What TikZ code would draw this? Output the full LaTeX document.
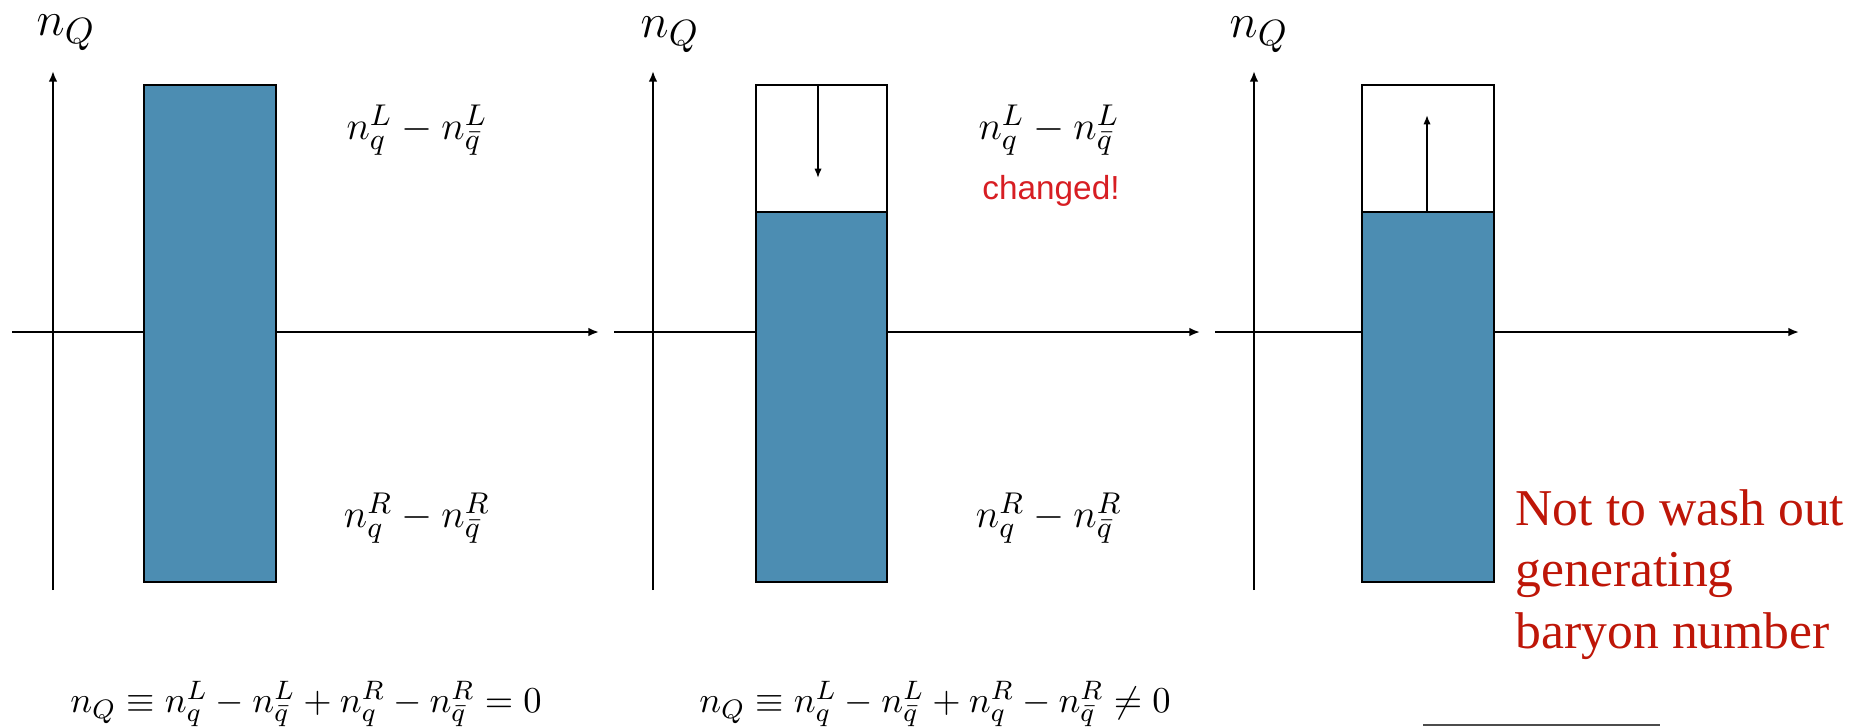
\documentclass[tikz,border=0pt]{standalone}
\usepackage{fontspec}
\usepackage{amsmath,amssymb}
\newfontfamily\chgfont{Liberation Sans}
\newfontfamily\notefont{Liberation Serif}
\usetikzlibrary{arrows.meta}
\definecolor{barblue}{RGB}{76,141,178}
\definecolor{chgred}{RGB}{215,30,35}
\definecolor{notered}{RGB}{190,22,8}
\tikzset{
  axisline/.style={line width=0.6pt,-{Latex[length=3.2pt,width=2.6pt]}},
  barfill/.style={fill=barblue,draw=black,line width=0.6pt},
  barempty/.style={fill=white,draw=black,line width=0.6pt},
  shiftarrow/.style={line width=0.5pt,-{Latex[length=2.8pt,width=2.2pt]}},
  axlabel/.style={inner sep=0pt,font=\fontsize{15}{18}\selectfont},
  mathlabel/.style={inner sep=0pt,font=\fontsize{12.5}{15}\selectfont},
  eqlabel/.style={inner sep=0pt,font=\fontsize{11.2}{13}\selectfont},
  chglabel/.style={inner sep=0pt,text=chgred,font=\chgfont\fontsize{10}{12}\selectfont},
  notelabel/.style={inner sep=0pt,text=notered,align=left,font=\notefont\fontsize{15.5}{18.4}\selectfont}
}
\begin{document}
\begin{tikzpicture}[x=0.3pt,y=-0.3pt]
\useasboundingbox (0,0) rectangle (1859,727);
% ---------- panel 1 ----------
\coordinate (a1b) at (53,590); \coordinate (a1t) at (53,71);
\coordinate (x1l) at (12,332); \coordinate (x1r) at (599,332);
\draw[axisline] (a1b) -- (a1t);
\draw[axisline] (x1l) -- (x1r);
\node[barfill,minimum width=132*0.3pt,minimum height=497*0.3pt,anchor=north west] (bar1) at (143,84) {};
\node[axlabel] (nq1) at (66,33) {$n_Q$};
\node[mathlabel] (l1) at (417,130) {$n_q^L - n_{\bar q}^L$};
\node[mathlabel] (r1) at (417,518) {$n_q^R - n_{\bar q}^R$};
\node[eqlabel] (eq1) at (306,704) {$n_Q \equiv n_q^L - n_{\bar q}^L + n_q^R - n_{\bar q}^R = 0$};
% ---------- panel 2 ----------
\coordinate (a2b) at (653,590); \coordinate (a2t) at (653,71);
\coordinate (x2l) at (614,332); \coordinate (x2r) at (1200,332);
\draw[axisline] (a2b) -- (a2t);
\draw[axisline] (x2l) -- (x2r);
\node[barempty,minimum width=131*0.3pt,minimum height=127*0.3pt,anchor=north west] (top2) at (755,84) {};
\node[barfill,minimum width=131*0.3pt,minimum height=370*0.3pt,anchor=north west] (bar2) at (755,211) {};
\coordinate (d2s) at (818,84); \coordinate (d2e) at (818,178);
\draw[shiftarrow] (d2s) -- (d2e);
\node[axlabel] (nq2) at (670,35) {$n_Q$};
\node[mathlabel] (l2) at (1049,130) {$n_q^L - n_{\bar q}^L$};
\node[chglabel] (chg) at (1051,191) {changed!};
\node[mathlabel] (r2) at (1049,518) {$n_q^R - n_{\bar q}^R$};
\node[eqlabel] (eq2) at (935,704) {$n_Q \equiv n_q^L - n_{\bar q}^L + n_q^R - n_{\bar q}^R \neq 0$};
% ---------- panel 3 ----------
\coordinate (a3b) at (1254,590); \coordinate (a3t) at (1254,71);
\coordinate (x3l) at (1215,332); \coordinate (x3r) at (1799,332);
\draw[axisline] (a3b) -- (a3t);
\draw[axisline] (x3l) -- (x3r);
\node[barempty,minimum width=132*0.3pt,minimum height=127*0.3pt,anchor=north west] (top3) at (1361,84) {};
\node[barfill,minimum width=132*0.3pt,minimum height=370*0.3pt,anchor=north west] (bar3) at (1361,211) {};
\coordinate (u3s) at (1427,211); \coordinate (u3e) at (1427,115);
\draw[shiftarrow] (u3s) -- (u3e);
\node[axlabel] (nq3) at (1259,35) {$n_Q$};
\node[notelabel,anchor=base west] (note) at (1515,648) {Not to wash out\\generating\\baryon number};
% cut-off rule at the bottom edge
\coordinate (cl) at (1423,725); \coordinate (cr) at (1660,725);
\draw[line width=0.5pt,black!70] (cl) -- (cr);
\end{tikzpicture}
\end{document}
